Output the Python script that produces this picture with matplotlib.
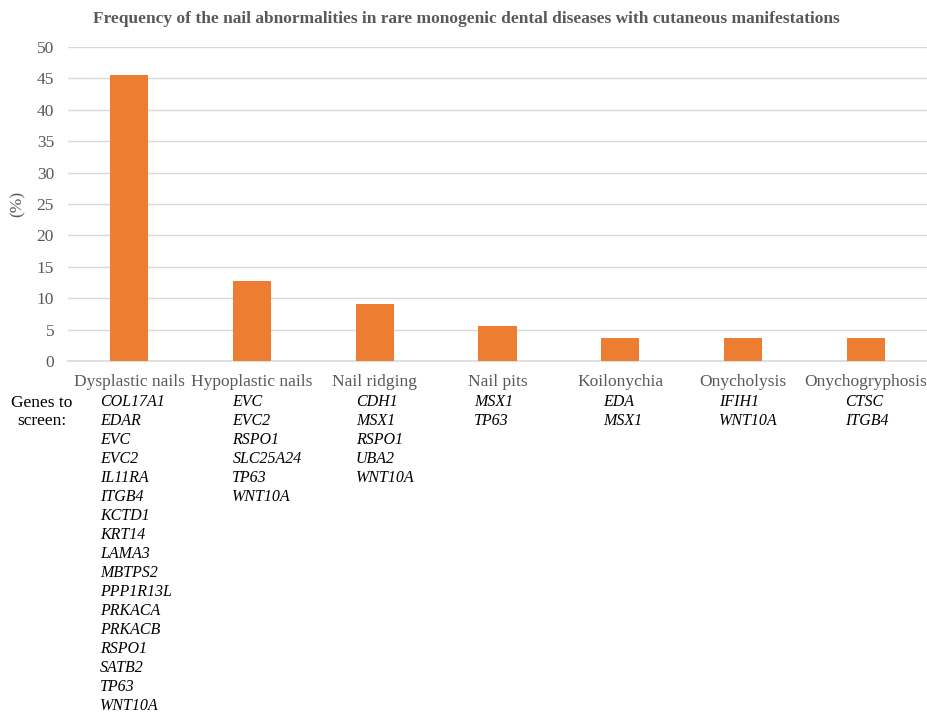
import matplotlib
matplotlib.use("Agg")
import matplotlib.pyplot as plt
from matplotlib.transforms import blended_transform_factory

# nail abnormality categories and their frequency (%)
categories = ["Dysplastic nails", "Hypoplastic nails", "Nail ridging", "Nail pits",
              "Koilonychia", "Onycholysis", "Onychogryphosis"]
frequency = [45.5, 12.7, 9.1, 5.5, 3.6, 3.6, 3.6]

# genes to screen for each category
genes_dysplastic = ["COL17A1", "EDAR", "EVC", "EVC2", "IL11RA", "ITGB4", "KCTD1", "KRT14",
                    "LAMA3", "MBTPS2", "PPP1R13L", "PRKACA", "PRKACB", "RSPO1", "SATB2",
                    "TP63", "WNT10A"]
genes_hypoplastic = ["EVC", "EVC2", "RSPO1", "SLC25A24", "TP63", "WNT10A"]
genes_ridging = ["CDH1", "MSX1", "RSPO1", "UBA2", "WNT10A"]
genes_pits = ["MSX1", "TP63"]
genes_koilonychia = ["EDA", "MSX1"]
genes_onycholysis = ["IFIH1", "WNT10A"]
genes_onychogryphosis = ["CTSC", "ITGB4"]
gene_lists = [genes_dysplastic, genes_hypoplastic, genes_ridging, genes_pits,
              genes_koilonychia, genes_onycholysis, genes_onychogryphosis]

yticks = list(range(0, 51, 5))

# layout (pixels / offsets in category units)
W, H = 928, 713
gene_x_offset = [-0.24, -0.16, -0.155, -0.19, -0.14, -0.195, -0.165]
gene_row0_px = 402
gene_row_step_px = 19.0

plt.rcParams["font.family"] = ["Liberation Serif", "DejaVu Serif"]
grey = "#595959"
bar_color = "#ED7D31"
grid_color = "#D9D9D9"

fig = plt.figure(figsize=(W / 100, H / 100), dpi=100)
ax = fig.add_axes([68 / W, 1 - 361 / H, 859 / W, 314 / H])

x = list(range(len(categories)))
ax.bar(x, frequency, width=0.31, color=bar_color, zorder=3)

ax.set_xlim(-0.5, len(categories) - 0.5)
ax.set_ylim(0, 50)
ax.set_yticks(yticks)
ax.set_yticklabels([str(t) for t in yticks])
ax.set_xticks(x)
ax.set_xticklabels(categories)
ax.grid(axis="y", color=grid_color, linewidth=1, zorder=0)
for side in ["top", "right", "left"]:
    ax.spines[side].set_visible(False)
ax.spines["bottom"].set_color(grid_color)
ax.spines["bottom"].set_linewidth(1.2)
ax.tick_params(axis="both", length=0, labelsize=12.5, labelcolor=grey)
ax.tick_params(axis="y", pad=10)
ax.tick_params(axis="x", pad=9)

ax.set_ylabel("(%)", fontsize=12.5, color=grey, labelpad=8)

fig.text(0.503, 1 - 19 / H, "Frequency of the nail abnormalities in rare monogenic dental "
         "diseases with cutaneous manifestations",
         ha="center", va="center", fontsize=12.5, fontweight="bold", color=grey)

# gene lists under each category
trans = blended_transform_factory(ax.transData, fig.transFigure)
for i, genes in enumerate(gene_lists):
    for j, g in enumerate(genes):
        y_px = gene_row0_px + gene_row_step_px * j
        ax.text(i + gene_x_offset[i], 1 - y_px / H, g, transform=trans,
                ha="left", va="center", fontsize=11.5, style="italic", color="black")

fig.text(42 / W, 1 - 412 / H, "Genes to\nscreen:", ha="center", va="center",
         fontsize=12.5, color="black", linespacing=1.2)

fig.savefig("out.png", dpi=100, facecolor="white")
